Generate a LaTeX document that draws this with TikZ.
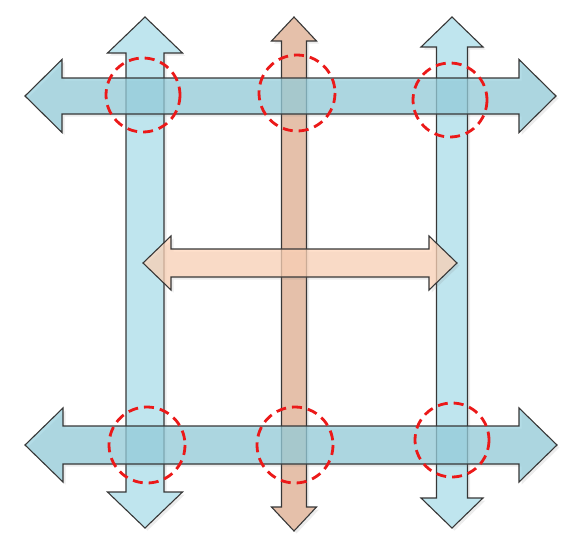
\documentclass[tikz,border=0pt]{standalone}
\usetikzlibrary{shadows}
\definecolor{vbluefill}{RGB}{191,229,238}
\definecolor{hbluefill}{RGB}{149,207,221}
\definecolor{brownfill}{RGB}{229,192,170}
\definecolor{peachfill}{RGB}{255,212,184}
\definecolor{edgegray}{RGB}{55,55,55}
\definecolor{spotred}{RGB}{235,25,25}
% double arrows: style, centre line, tip, tip, half shaft, half head, head length
\newcommand{\hdouble}[7]{%
  \draw[#1] (#3,#2) -- (#3+#7,#2-#6) -- (#3+#7,#2-#5) -- (#4-#7,#2-#5) -- (#4-#7,#2-#6)
    -- (#4,#2) -- (#4-#7,#2+#6) -- (#4-#7,#2+#5) -- (#3+#7,#2+#5) -- (#3+#7,#2+#6) -- cycle;}
\newcommand{\vdouble}[7]{%
  \draw[#1] (#2,#3) -- (#2-#6,#3+#7) -- (#2-#5,#3+#7) -- (#2-#5,#4-#7) -- (#2-#6,#4-#7)
    -- (#2,#4) -- (#2+#6,#4-#7) -- (#2+#5,#4-#7) -- (#2+#5,#3+#7) -- (#2+#6,#3+#7) -- cycle;}
\tikzset{
  arrowbody/.style={draw=edgegray, line width=1.1pt, line join=miter,
    drop shadow={opacity=0.15, shadow xshift=2.5pt, shadow yshift=-2.5pt}},
  vblue/.style={arrowbody, fill=vbluefill},
  vbrown/.style={arrowbody, fill=brownfill},
  hblue/.style={arrowbody, fill=hbluefill, fill opacity=0.72},
  hpeach/.style={arrowbody, fill=peachfill, fill opacity=0.72},
  spot/.style={draw=spotred, line width=2.8pt, dash pattern=on 10pt off 6pt}
}
\begin{document}
\begin{tikzpicture}[x=1pt, y=-1pt]
\useasboundingbox (0,0) rectangle (563,541);
% vertical arrows
\vdouble{vblue}{145}{17}{528}{19}{37.5}{36}
\vdouble{vblue}{452}{17}{528}{15.5}{31}{30}
\vdouble{vbrown}{294}{17}{531}{12.5}{22.5}{24}
% horizontal arrows
\hdouble{hpeach}{263}{143}{457}{14}{27}{28}
\hdouble{hblue}{96}{25}{556}{18}{36.5}{37}
\hdouble{hblue}{445}{25}{557}{19}{37}{38}
% crossings
\draw[spot] (143,95) circle (37);
\draw[spot] (297,93) circle (38);
\draw[spot] (450,100) circle (37);
\draw[spot] (147,445) circle (38);
\draw[spot] (295,445) circle (38);
\draw[spot] (452,440) circle (37);
\end{tikzpicture}
\end{document}
